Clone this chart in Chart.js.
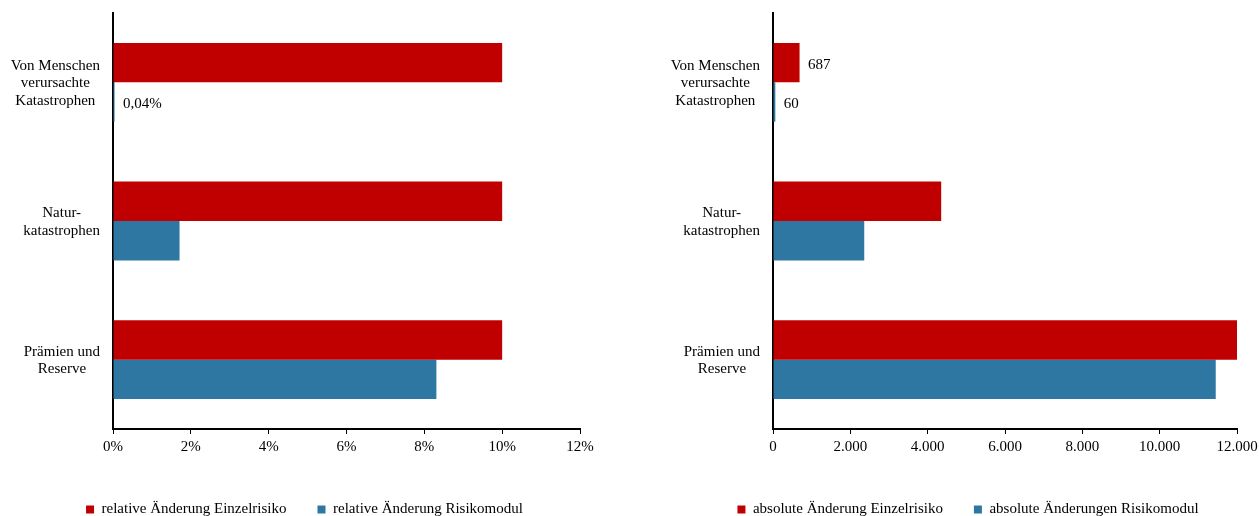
<!DOCTYPE html>
<html lang="de">
<head>
<meta charset="utf-8">
<title>Änderungen Einzelrisiko und Risikomodul</title>
<script src="https://cdn.jsdelivr.net/npm/chart.js@4"></script>
<style>
  html, body { margin: 0; padding: 0; background: #fff; width: 1259px; height: 516px; overflow: hidden; }
  canvas { position: absolute; top: 0; }
  #relChart { left: 0; }
  #absChart { left: 640px; }
</style>
</head>
<body>
<canvas id="relChart" width="609" height="527"></canvas>
<canvas id="absChart" width="619" height="527"></canvas>
<script>
// Kategorien (mehrzeilige Achsenbeschriftungen)
const categories = [
  ['Von Menschen', 'verursachte', 'Katastrophen'],
  ['Natur-', 'katastrophen'],
  ['Prämien und', 'Reserve']
];

// relative Änderungen in %
const relEinzelrisiko = [10, 10, 10];
const relRisikomodul = [0.04, 1.71, 8.31];

// absolute Änderungen
const absEinzelrisiko = [687, 4350, 12000];
const absRisikomodul = [60, 2360, 11450];

// Legendentexte
const relSeriesNames = ['relative Änderung Einzelrisiko', 'relative Änderung Risikomodul'];
const absSeriesNames = ['absolute Änderung Einzelrisiko', 'absolute Änderungen Risikomodul'];

// Achsenbereich und Schrittweite
const relAxisMax = 12;
const relAxisStep = 2;
const absAxisMax = 12000;
const absAxisStep = 2000;

// beschriftete Balken: Kategorie und Datenreihen
const labelledCategories = [0];
const relLabelledSeries = [1];
const absLabelledSeries = [0, 1];

const RED = '#C00000';
const BLUE = '#2E77A2';
const FONT_FAMILY = '"Liberation Serif", "Times New Roman", serif';
const FONT = { family: FONT_FAMILY, size: 15 };

function thousands(v) {
  return Math.round(v).toString().replace(/\B(?=(\d{3})+(?!\d))/g, '.');
}
function percentTick(v) { return v + '%'; }
function percentValue(v) { return String(v).replace('.', ',') + '%'; }

// Kategorienamen: Block rechtsbündig an der Achse, Zeilen im Block zentriert
const categoryLabels = {
  id: 'categoryLabels',
  afterDraw(chart) {
    const yScale = chart.scales.y;
    const ctx = chart.ctx;
    const lineHeight = 17.5;
    const blockRight = chart.chartArea.left - 13;
    ctx.save();
    ctx.font = FONT.size + 'px ' + FONT_FAMILY;
    ctx.fillStyle = '#000';
    ctx.textAlign = 'center';
    ctx.textBaseline = 'middle';
    chart.data.labels.forEach((lines, i) => {
      const w = Math.max(...lines.map(l => ctx.measureText(l).width));
      const cx = blockRight - w / 2;
      const cy = yScale.getPixelForValue(i) + 1;
      lines.forEach((line, k) => {
        ctx.fillText(line, cx, cy + (k - (lines.length - 1) / 2) * lineHeight);
      });
    });
    ctx.restore();
  }
};

// Wertbeschriftungen rechts neben den Balken
const valueLabels = {
  id: 'valueLabels',
  afterDatasetsDraw(chart, args, opts) {
    const ctx = chart.ctx;
    ctx.save();
    ctx.font = FONT.size + 'px ' + FONT_FAMILY;
    ctx.fillStyle = '#000';
    ctx.textAlign = 'left';
    ctx.textBaseline = 'middle';
    opts.series.forEach(d => {
      const ds = chart.data.datasets[d];
      const meta = chart.getDatasetMeta(d);
      opts.indices.forEach(i => {
        const bar = meta.data[i];
        ctx.fillText(opts.format(ds.data[i]), bar.x + 8.5, bar.y + 2);
      });
    });
    ctx.restore();
  }
};

function makeChart(id, series, names, max, step, tickFmt, valueFmt, labelledSeries, padLeft, yWidth, xPadRight) {
  return new Chart(document.getElementById(id), {
    type: 'bar',
    data: {
      labels: categories,
      datasets: [
        { label: names[0], data: series[0], backgroundColor: RED, borderWidth: 0 },
        { label: names[1], data: series[1], backgroundColor: BLUE, borderWidth: 0 }
      ]
    },
    options: {
      indexAxis: 'y',
      responsive: false,
      animation: false,
      devicePixelRatio: 1,
      layout: { padding: { top: 13, left: padLeft, right: 0, bottom: 0 } },
      datasets: { bar: { barPercentage: 1, categoryPercentage: 0.568 } },
      scales: {
        x: {
          min: 0,
          max: max,
          ticks: { stepSize: step, callback: tickFmt, font: FONT, color: '#000', padding: 4, maxRotation: 0, autoSkip: false },
          grid: { drawOnChartArea: false, drawTicks: true, tickLength: 5, color: '#000', lineWidth: 1 },
          border: { display: true, color: '#000', width: 2 },
          afterFit(s) { s.height = 42; s.paddingRight = xPadRight; }
        },
        y: {
          ticks: { display: false },
          grid: { display: false },
          border: { display: true, color: '#000', width: 2 },
          afterFit(s) { s.width = yWidth; s.paddingTop = 0; s.paddingBottom = 0; }
        }
      },
      plugins: {
        legend: {
          position: 'bottom',
          labels: { font: FONT, color: '#000', boxWidth: 8, boxHeight: 8, padding: 31 }
        },
        tooltip: { enabled: false },
        valueLabels: { indices: labelledCategories, series: labelledSeries, format: valueFmt }
      }
    },
    plugins: [categoryLabels, valueLabels]
  });
}

makeChart('relChart', [relEinzelrisiko, relRisikomodul], relSeriesNames,
  relAxisMax, relAxisStep, percentTick, percentValue, relLabelledSeries, 0, 113, 29);
makeChart('absChart', [absEinzelrisiko, absRisikomodul], absSeriesNames,
  absAxisMax, absAxisStep, thousands, thousands, absLabelledSeries, 37, 96, 22);
</script>
</body>
</html>
